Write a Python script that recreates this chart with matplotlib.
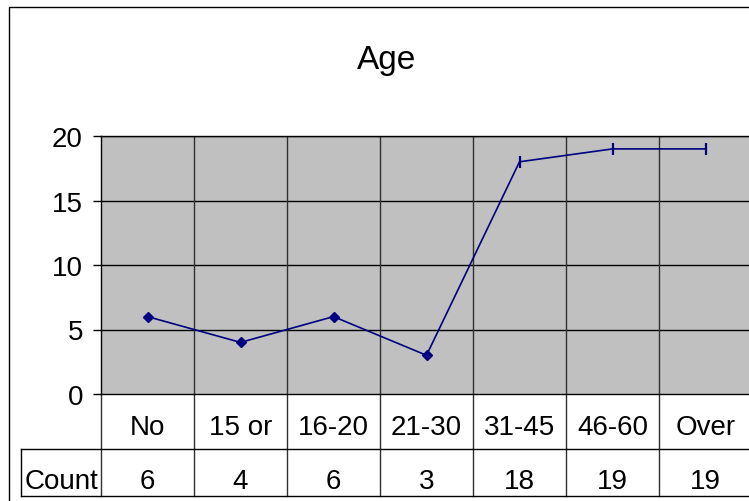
import matplotlib
matplotlib.use('Agg')
import matplotlib.pyplot as plt
from matplotlib.patches import Rectangle
from matplotlib.transforms import blended_transform_factory

plt.rcParams['font.family'] = ['Liberation Sans', 'DejaVu Sans']

categories = ['No', '15 or', '16-20', '21-30', '31-45', '46-60', 'Over']
counts = [6, 4, 6, 3, 18, 19, 19]
row_label = 'Count'
title = 'Age'
yticks = [0, 5, 10, 15, 20]

W, H = 749, 502
fig = plt.figure(figsize=(W / 100, H / 100), dpi=100)

# plot area in pixels: left 101, top 137, bottom 395, 93 px per category
left, top, bottom, cw = 101, 137, 395, 93
ax = fig.add_axes([left / W, (H - bottom) / H, cw * len(categories) / W, (bottom - top) / H])
ax.set_facecolor('#C0C0C0')

x = list(range(len(categories)))
ax.plot(x, counts, color='#000080', lw=1.2, zorder=3)
ax.plot(x[:4], counts[:4], ls='none', marker='D', ms=5, color='#000080', zorder=4)
ax.plot(x[4:], counts[4:], ls='none', marker='|', ms=8, mew=1.6, color='#000080', zorder=4)

ax.set_xlim(-0.5, len(categories) - 0.5)
ax.set_ylim(0, 20)
ax.set_yticks(yticks)
ax.set_xticks([])
for v in yticks[1:]:
    ax.axhline(v, color='black', lw=1, zorder=1)
for i in range(1, len(categories)):
    ax.axvline(i - 0.5, color='#303030', lw=1, zorder=1)
ax.tick_params(axis='y', direction='out', length=6, width=1, pad=7, labelsize=20)
for s in ['top', 'bottom', 'left']:
    ax.spines[s].set_color('black')
    ax.spines[s].set_linewidth(1)
ax.spines['right'].set_visible(False)

# data table under the plot
tr = blended_transform_factory(ax.transData, ax.transAxes)
ph = bottom - top
y_mid = -(450 - bottom) / ph
y_bot = -(497 - bottom) / ph
x_left = (21 - left) / cw - 0.5
y_cat = -(428 - bottom) / ph
y_val = -(482 - bottom) / ph
for i, (c, n) in enumerate(zip(categories, counts)):
    ax.text(i, y_cat, c, transform=tr, ha='center', va='center', fontsize=20)
    ax.text(i, y_val, str(n), transform=tr, ha='center', va='center', fontsize=20)
for i in range(len(categories) + 1):
    ax.plot([i - 0.5, i - 0.5], [0, y_bot], transform=tr, color='#303030', lw=1, clip_on=False)
ax.plot([x_left, len(categories)], [y_mid, y_mid], transform=tr, color='black', lw=1, clip_on=False)
ax.plot([x_left, len(categories)], [y_bot, y_bot], transform=tr, color='black', lw=1, clip_on=False)
ax.plot([x_left, x_left], [y_mid, y_bot], transform=tr, color='black', lw=1, clip_on=False)
ax.text(x_left + 0.04, y_val, row_label, transform=tr, ha='left', va='center', fontsize=20)

# outer chart border
fig.patches.append(Rectangle((8.5 / W, -0.1), 1.2, 1.1 - 7.5 / H, transform=fig.transFigure,
                             fill=False, ec='black', lw=1))
fig.text(387 / W, 1 - 60 / H, title, ha='center', va='center', fontsize=24)

fig.savefig('out.png', dpi=100)
